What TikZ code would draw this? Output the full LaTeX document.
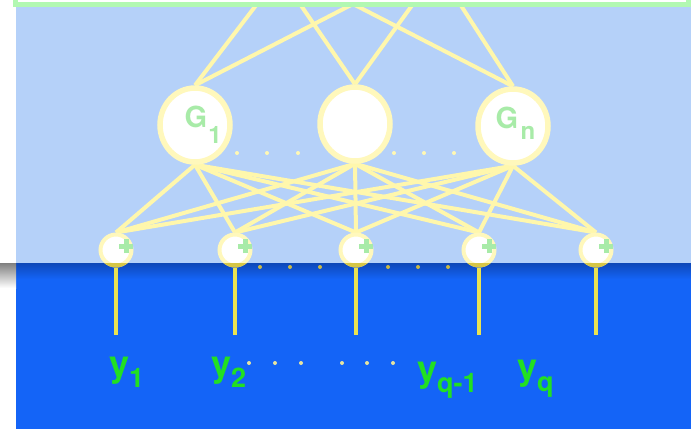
\documentclass[tikz,border=0pt]{standalone}
\usepackage{fontspec}
\usepackage{graphicx}
\setmainfont{Liberation Sans}
\newfontfamily\labelfont{texgyreheros-bold.otf}
\usetikzlibrary{shapes.geometric}

\pgfdeclarelayer{bg}
\pgfdeclarelayer{edges}
\pgfsetlayers{bg,edges,main}

\definecolor{paleblue}{HTML}{B5D1F9}
\definecolor{deepblue}{HTML}{1464F7}
\definecolor{edgeblue}{HTML}{0E48B8}
\definecolor{framegreen}{HTML}{B2F8B2}
\definecolor{paleyellow}{HTML}{FFF7AC}
\definecolor{ringyellow}{HTML}{FFF8BC}
\definecolor{capyellow}{HTML}{D6C646}
\definecolor{stemyellow}{HTML}{EAE352}
\definecolor{palegreen}{HTML}{A8EBA8}
\definecolor{labelgreen}{HTML}{22E022}
\definecolor{dotyellow}{HTML}{E6E4A0}
\definecolor{dotolive}{HTML}{C8B848}
\definecolor{dotpale}{HTML}{FFF8B4}

% green plus sign built from two rules
\newcommand\plusglyph{\rlap{\rule[-2.5pt]{14pt}{5pt}}\hspace{4.5pt}\rule[-7pt]{5pt}{14pt}\hspace{4.5pt}}
% output label: y with a subscript lowered by #2
\newcommand\ylabel[2]{{\fontsize{36}{36}\selectfont y}\raisebox{-#2}{\fontsize{27}{27}\selectfont #1}}

\begin{document}
\begin{tikzpicture}[x=1pt,y=-1pt,
  gnode/.style={ellipse, draw=ringyellow, fill=white, line width=5.5pt,
    minimum width=70pt, minimum height=74pt, inner sep=0pt},
  sumnode/.style={circle, draw=ringyellow, fill=white, line width=4pt,
    minimum size=31pt, inner sep=0pt},
  gtext/.style={inner sep=0pt, text=palegreen, font=\labelfont\fontsize{29}{29}\selectfont},
  gsub/.style={inner sep=0pt, text=palegreen, font=\labelfont\fontsize{24}{24}\selectfont},
  plusmark/.style={inner sep=0pt, text=palegreen},
  ylab/.style={inner sep=0pt, anchor=base west, text=labelgreen, font=\labelfont},
  wire/.style={paleyellow, line width=4pt},
  stem/.style={stemyellow, line width=4pt},
]
\useasboundingbox (0,0) rectangle (691,429);

% backdrop: light upper band, deep blue lower band
\begin{pgfonlayer}{bg}
  \fill[white] (0,0) rectangle (691,429);
  \fill[paleblue] (16,0) rectangle (691,263);
  \fill[deepblue] (16,263) rectangle (691,429);
  \shade[top color=edgeblue, bottom color=deepblue] (16,263) rectangle (691,279);
  \shade[top color=black!50, bottom color=white] (0,263) rectangle (16,288);
\end{pgfonlayer}

% hidden units
\node[gnode] (g1) at (195,125) {};
\node[gnode] (g2) at (355,124) {};
\node[gnode] (g3) at (513,126) {};

% summing units
\node[sumnode] (p1) at (116,250) {};
\node[sumnode] (p2) at (235,250) {};
\node[sumnode] (p3) at (356,250) {};
\node[sumnode] (p4) at (479,250) {};
\node[sumnode] (p5) at (596,250) {};

% lower caps of the summing units on the deep blue band
\begin{scope}
  \clip (16,263) rectangle (691,429);
  \foreach \p in {p1,p2,p3,p4,p5}
    \fill[capyellow] (\p) circle (17.5pt);
\end{scope}

% plus marks
\foreach \p in {p1,p2,p3,p4,p5}
  \node[plusmark] (\p x) at ([xshift=8pt,yshift=4pt]\p.center) {\plusglyph};

% unit labels
\node[gtext] (g1G) at (196,117) {G};
\node[gsub]  (g1s) at (215,135) {1};
\node[gtext] (g3G) at (507,117.5) {G};
\node[gsub]  (g3s) at (528,133) {n};

% free ends of the incoming wires at the top
\coordinate (t1) at (257,4);
\coordinate (t2) at (300,4);
\coordinate (t3) at (353,4);
\coordinate (t4) at (413,4);
\coordinate (t5) at (460,4);

% free ends of the output stems
\coordinate (o1) at (116,335);
\coordinate (o2) at (235,335);
\coordinate (o3) at (356,335);
\coordinate (o4) at (479,335);
\coordinate (o5) at (596,335);

\begin{pgfonlayer}{edges}
  \draw[wire] (t1) -- (g1.north);
  \draw[wire] (t3) -- (g1.north);
  \draw[wire] (t2) -- (g2.north);
  \draw[wire] (t4) -- (g2.north);
  \draw[wire] (t3) -- (g3.north);
  \draw[wire] (t5) -- (g3.north);
  \foreach \g in {g1,g2,g3}
    \foreach \p in {p1,p2,p3,p4,p5}
      \draw[wire] (\g.south) -- (\p.north);
  \foreach \i in {1,...,5}
    \draw[stem] (p\i.south) -- (o\i);
\end{pgfonlayer}

% frame edge along the top
\draw[framegreen, line width=5pt, fill=white] (15.5,-20) rectangle (688,4.5);

% ellipsis dots
\foreach \x in {237,267,298,394,424,454}
  \fill[dotpale] (\x,153) circle (2pt);
\foreach \x in {260,290,320,388,418,448}
  \fill[dotolive] (\x,267) circle (2pt);
\foreach \x in {249,275,301,342,367,393}
  \fill[dotyellow] (\x,363) circle (2pt);

% output labels
\node[ylab] (y1) at (109,376) {\ylabel{1}{11pt}};
\node[ylab] (y2) at (211,376) {\ylabel{2}{11pt}};
\node[ylab] (y3) at (417,381) {\ylabel{q-1}{11pt}};
\node[ylab] (y4) at (517,379) {\ylabel{q}{12pt}};
\end{tikzpicture}
\end{document}
